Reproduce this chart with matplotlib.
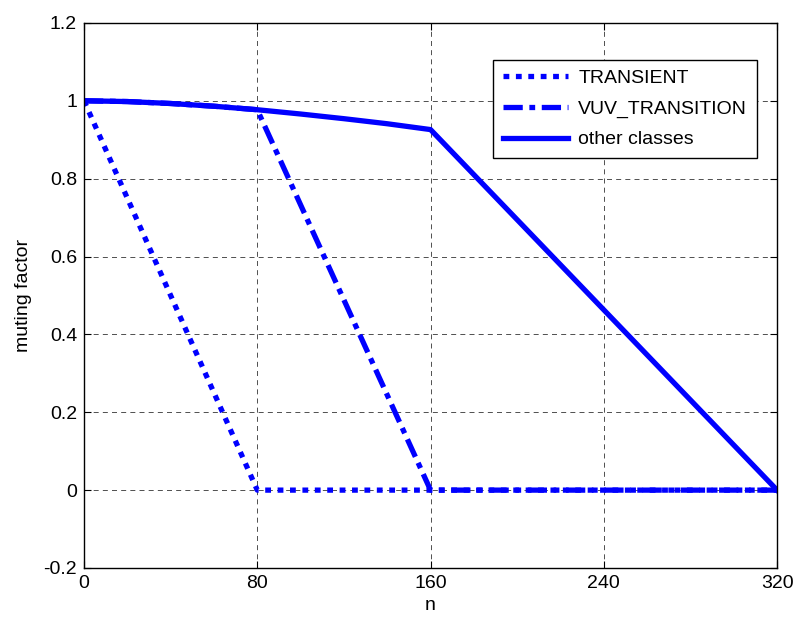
import matplotlib
matplotlib.use("Agg")
import matplotlib.pyplot as plt

plt.rcParams['font.family'] = ['Liberation Sans', 'DejaVu Sans']

# Muting factor curves versus sample index n
n_transient = [0, 80, 320]
f_transient = [1.0, 0.0, 0.0]

n_vuv = [0, 20, 40, 60, 80, 160, 320]
f_vuv = [1.0, 0.998, 0.993, 0.986, 0.977, 0.0, 0.0]

n_other = [0, 20, 40, 60, 80, 100, 120, 140, 160, 320]
f_other = [1.0, 0.998, 0.993, 0.986, 0.977, 0.966, 0.954, 0.941, 0.926, 0.0]

x_ticks = [0, 80, 160, 240, 320]
y_ticks = [-0.2, 0, 0.2, 0.4, 0.6, 0.8, 1, 1.2]
y_tick_labels = ['-0.2', '0', '0.2', '0.4', '0.6', '0.8', '1', '1.2']

fig = plt.figure(figsize=(7.97, 6.19), dpi=100)
ax = fig.add_axes([0.1054, 0.0824, 0.8696, 0.8806])

blue = '#0000ff'
lw = 3.8
ax.plot(n_transient, f_transient, color=blue, lw=lw, linestyle=(0, (1.1, 1.25)),
        dash_capstyle='butt', label='TRANSIENT')
ax.plot(n_vuv, f_vuv, color=blue, lw=lw, linestyle=(0, (3.65, 1.25, 1.1, 1.25)),
        dash_capstyle='butt', label='VUV_TRANSITION')
ax.plot(n_other, f_other, color=blue, lw=lw, linestyle='-', label='other classes')

ax.set_xlim(0, 320)
ax.set_ylim(-0.2, 1.2)
ax.set_xticks(x_ticks)
ax.set_yticks(y_ticks)
ax.set_yticklabels(y_tick_labels)
ax.tick_params(direction='in', labelsize=14, length=5, width=0.8, top=True, right=True, pad=5)
ax.grid(True, color='black', linestyle=(0, (6, 5)), linewidth=0.6, alpha=0.8)
for s in ax.spines.values():
    s.set_linewidth(1.0)

ax.set_xlabel('n', fontsize=14, labelpad=4)
ax.set_ylabel('muting factor', fontsize=14, labelpad=8)

leg = ax.legend(loc='upper right', bbox_to_anchor=(0.971, 0.932), fontsize=14,
                fancybox=False, framealpha=1, edgecolor='black', handlelength=3.35,
                handletextpad=0.55, borderpad=0.5, labelspacing=0.66,
                borderaxespad=0.0)
leg.get_frame().set_linewidth(1.0)

fig.savefig('out.png', dpi=100)
